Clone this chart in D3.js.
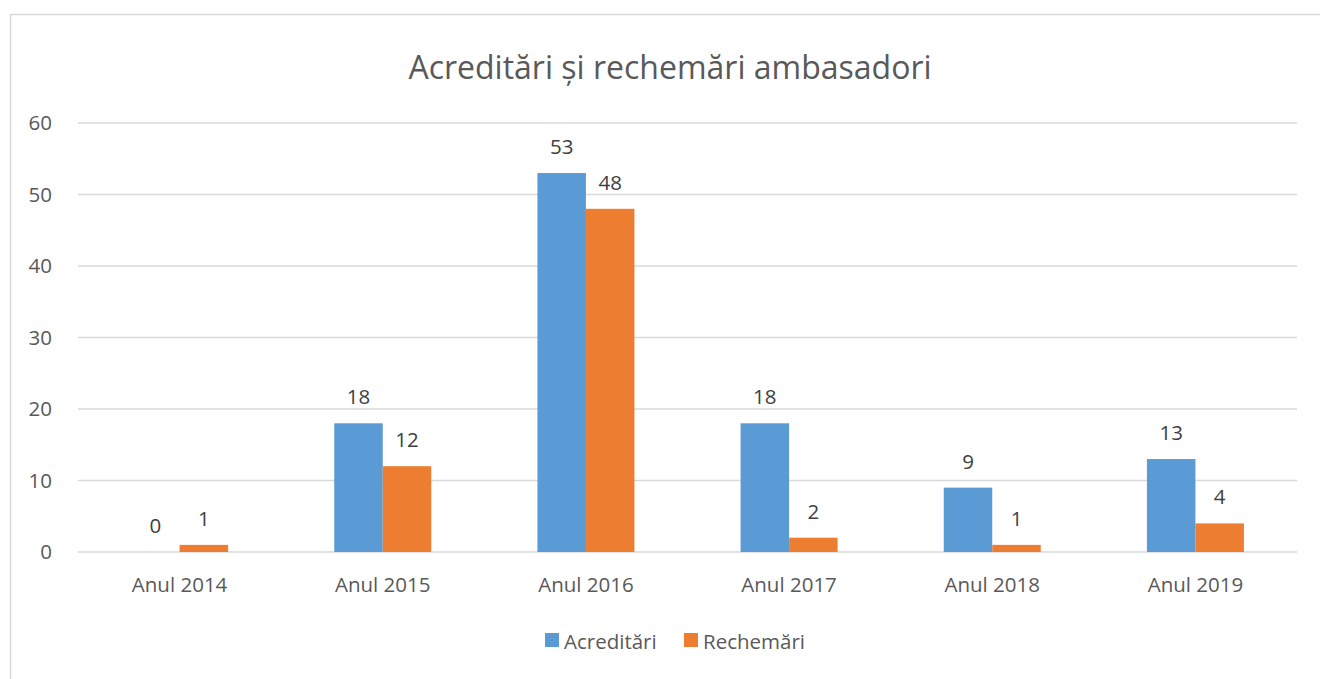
<!DOCTYPE html>
<html>
<head>
<meta charset="utf-8">
<script src="https://cdn.jsdelivr.net/npm/d3@7"></script>
<style>
  body { margin: 0; background: #fff; }
  svg { display: block; font-family: "Open Sans", "Noto Sans", sans-serif; }
</style>
</head>
<body>
<script>
var w = 1320; // Width of the page
var h = 679;  // Height of the page

// Data
var categories = ["Anul 2014", "Anul 2015", "Anul 2016", "Anul 2017", "Anul 2018", "Anul 2019"];
var seriesNames = ["Acreditări", "Rechemări"];
var acreditari = [0, 18, 53, 18, 9, 13];
var rechemari = [1, 12, 48, 2, 1, 4];
var yTicks = [0, 10, 20, 30, 40, 50, 60];
var colors = ["#5b9bd5", "#ed7d31"];

var plot = { left: 78, right: 1297, top: 123, bottom: 552 };
var fontSize = "20.5px";

var svg = d3.select("body")
    .append("svg")
    .attr("width", w)
    .attr("height", h);

// Chart frame (right and bottom edges fall outside the window)
svg.append("rect")
    .attr("x", 10.5)
    .attr("y", 14.5)
    .attr("width", 1340)
    .attr("height", 700)
    .attr("fill", "#fff")
    .attr("stroke", "#d9d9d9")
    .attr("stroke-width", 1.5);

// Scales
var xScale = d3.scaleBand()
    .domain(categories)
    .range([plot.left, plot.right]);

var xInner = d3.scaleBand()
    .domain(seriesNames)
    .range([0, 97]);

var yScale = d3.scaleLinear()
    .domain([0, 60])
    .range([plot.bottom, plot.top]);

// Gridlines
svg.append("g")
    .selectAll("line")
    .data(yTicks)
    .join("line")
    .attr("x1", plot.left)
    .attr("x2", plot.right)
    .attr("y1", function(d) { return yScale(d); })
    .attr("y2", function(d) { return yScale(d); })
    .attr("stroke", "#d9d9d9")
    .attr("stroke-width", 1.3);

// Y axis labels
var yAxis = d3.axisLeft(yScale)
    .tickValues(yTicks)
    .tickSize(0)
    .tickPadding(0);

var yG = svg.append("g")
    .attr("transform", "translate(52,0)")
    .call(yAxis);
yG.select(".domain").remove();
yG.selectAll("text")
    .attr("fill", "#595959")
    .style("font-size", fontSize)
    .style("font-family", "Open Sans, sans-serif");

// X axis labels
var xAxis = d3.axisBottom(xScale)
    .tickSize(0)
    .tickPadding(0);

var xG = svg.append("g")
    .attr("transform", "translate(0," + (plot.bottom + 25) + ")")
    .call(xAxis);
xG.select(".domain").remove();
xG.selectAll("text")
    .attr("fill", "#595959")
    .style("font-size", fontSize)
    .style("font-family", "Open Sans, sans-serif");

// Bars
var rows = categories.map(function(c, i) {
    return { cat: c, values: [acreditari[i], rechemari[i]] };
});

var groups = svg.append("g")
    .selectAll("g")
    .data(rows)
    .join("g")
    .attr("transform", function(d) {
        return "translate(" + (xScale(d.cat) + xScale.bandwidth() / 2 - 48.5) + ",0)";
    });

groups.selectAll("rect")
    .data(function(d) {
        return d.values.map(function(v, j) { return { name: seriesNames[j], value: v, j: j }; });
    })
    .join("rect")
    .attr("x", function(d) { return xInner(d.name); })
    .attr("y", function(d) { return yScale(d.value); })
    .attr("width", xInner.bandwidth())
    .attr("height", function(d) { return plot.bottom - yScale(d.value); })
    .attr("fill", function(d) { return colors[d.j]; });

// Data labels
groups.selectAll("text")
    .data(function(d) {
        return d.values.map(function(v, j) { return { name: seriesNames[j], value: v }; });
    })
    .join("text")
    .attr("x", function(d) { return xInner(d.name) + xInner.bandwidth() / 2; })
    .attr("y", function(d) { return yScale(d.value) - 19; })
    .attr("text-anchor", "middle")
    .attr("fill", "#404040")
    .style("font-size", fontSize)
    .text(function(d) { return d.value; });

// Title
svg.append("text")
    .attr("x", 670)
    .attr("y", 79)
    .attr("text-anchor", "middle")
    .attr("fill", "#595959")
    .style("font-size", "32px")
    .text("Acreditări și rechemări ambasadori");

// Legend
var legend = svg.append("g")
    .selectAll("g")
    .data(seriesNames)
    .join("g")
    .attr("transform", function(d, i) { return "translate(" + (545 + i * 139) + ",633)"; });

legend.append("rect")
    .attr("width", 14)
    .attr("height", 14)
    .attr("fill", function(d, i) { return colors[i]; });

legend.append("text")
    .attr("x", 19)
    .attr("y", 16)
    .attr("fill", "#595959")
    .style("font-size", fontSize)
    .text(function(d) { return d; });
</script>
</body>
</html>
